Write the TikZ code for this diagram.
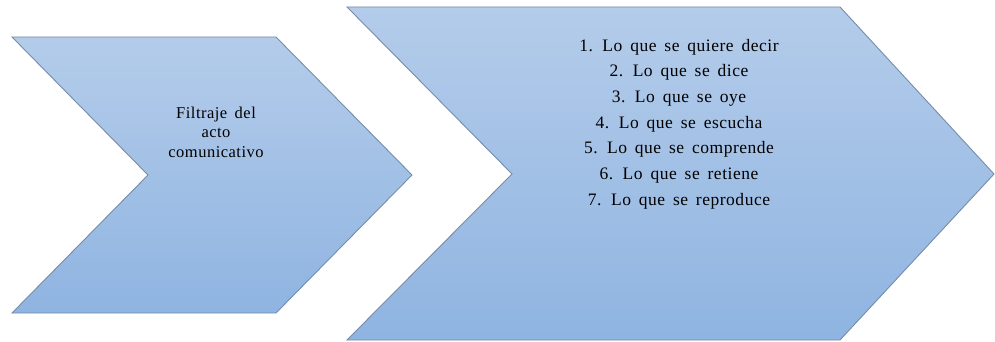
\documentclass[tikz,border=0pt]{standalone}
\usepackage{fontspec}
\newfontfamily\chevfont{Liberation Serif}[LetterSpace=3,WordSpace=1.6]
\usepackage{xcolor}
\usepackage{tikz}

\definecolor{chevtop}{RGB}{180,204,234}
\definecolor{chevbot}{RGB}{143,180,225}
\definecolor{chevline}{RGB}{118,140,170}

\begin{document}
\begin{tikzpicture}[x=1pt,y=-1pt,chevron/.style={draw=chevline,line width=0.9pt,top color=chevtop,bottom color=chevbot},every node/.style={align=center,text=black}]
    \useasboundingbox (0,0) rectangle (995,342);
    % first chevron
    \draw[chevron] (12,37) -- (276,37) -- (412,175) -- (276,313) -- (12,313) -- (148,175) -- cycle;
    \node (filtro) [font=\chevfont\fontsize{16.5}{19.5}\selectfont] at (216,132) {Filtraje del\\acto\\comunicativo};
    % second chevron
    \draw[chevron] (347,7) -- (840,7) -- (994,174) -- (840,340) -- (347,340) -- (512,174) -- cycle;
    \node (niveles) [font=\chevfont\fontsize{17.5}{25.7}\selectfont] at (679,124) {1. Lo que se quiere decir\\2. Lo que se dice\\3. Lo que se oye\\4. Lo que se escucha\\5. Lo que se comprende\\6. Lo que se retiene\\7. Lo que se reproduce};
\end{tikzpicture}
\end{document}
